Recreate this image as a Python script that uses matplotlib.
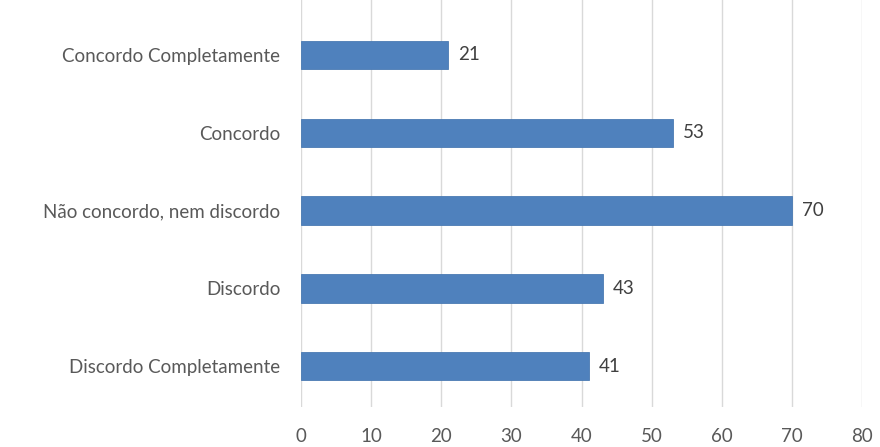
import matplotlib.pyplot as plt

categorias = ["Discordo Completamente", "Discordo", "Não concordo, nem discordo",
              "Concordo", "Concordo Completamente"]
respostas = [41, 43, 70, 53, 21]
ticks_x = [0, 10, 20, 30, 40, 50, 60, 70, 80]

plt.rcParams['font.family'] = ['Lato', 'DejaVu Sans']
cor_texto = '#595959'

fig = plt.figure(figsize=(8.8, 4.47), dpi=100)
ax = fig.add_axes([301 / 880, 40 / 447, 561 / 880, 407 / 447])

pos = range(len(categorias))
ax.barh(pos, respostas, height=0.36, color='#4F81BD', edgecolor='#4A7AB3',
        linewidth=0.6, zorder=3)

# rótulos com o valor ao lado de cada barra
for y, v in zip(pos, respostas):
    ax.text(v + 1.4, y, str(v), va='center', ha='left', fontsize=13.5,
            color='#404040')

ax.set_xlim(0, 80)
ax.set_ylim(-0.52, 4.7)
ax.set_xticks(ticks_x)
ax.set_yticks(list(pos))
ax.set_yticklabels(categorias)
ax.tick_params(axis='both', length=0, labelsize=13.5, colors=cor_texto)
ax.tick_params(axis='y', pad=15)
ax.tick_params(axis='x', pad=15)
ax.grid(axis='x', color='#D9D9D9', linewidth=1, zorder=0)
for s in ax.spines.values():
    s.set_visible(False)

fig.savefig('out.png', dpi=100)
